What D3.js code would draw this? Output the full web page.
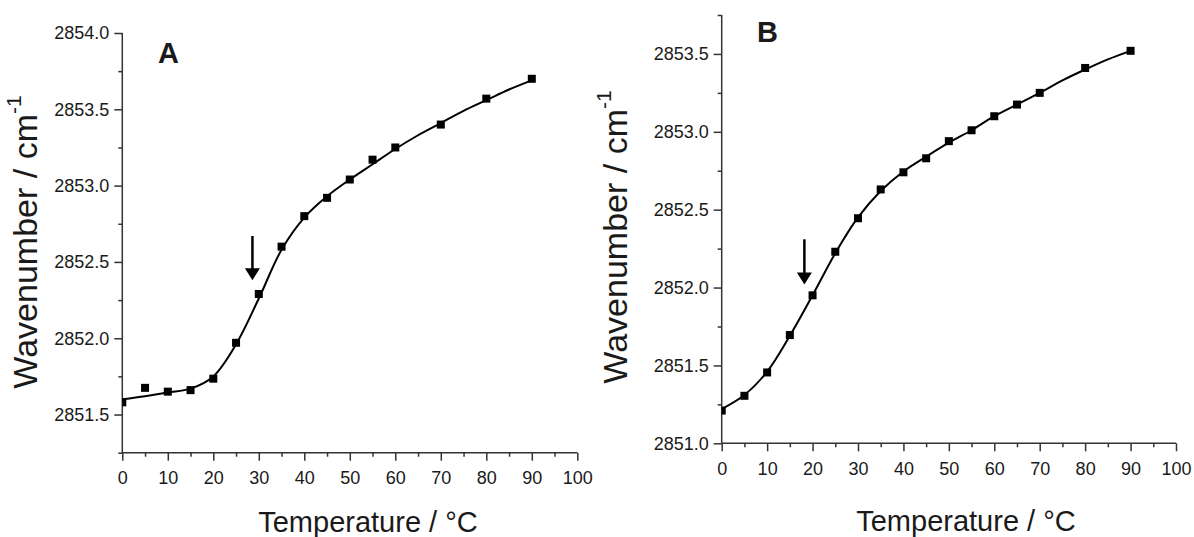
<!DOCTYPE html>
<html>
<head>
<meta charset="utf-8">
<script src="https://cdn.jsdelivr.net/npm/d3@7"></script>
<style>
  body { margin: 0; background: #fff; }
  text { font-family: "Liberation Sans", Arial, sans-serif; fill: #1a1a1a; }
</style>
</head>
<body>
<script>
// panel A: measured points
var tempA = [0, 5, 10, 15, 20, 25, 30, 35, 40, 45, 50, 55, 60, 70, 80, 90];
var waveA = [2851.58, 2851.675, 2851.65, 2851.66, 2851.735, 2851.97, 2852.29, 2852.60,
             2852.80, 2852.92, 2853.04, 2853.17, 2853.25, 2853.40, 2853.57, 2853.70];
// panel A: fitted curve
var fitTempA = [0, 5, 10, 15, 20, 25, 30, 35, 40, 45, 50, 55, 60, 65, 70, 75, 80, 85, 90];
var fitA = [2851.60, 2851.62, 2851.645, 2851.67, 2851.75, 2851.96, 2852.26, 2852.58, 2852.79,
            2852.93, 2853.04, 2853.14, 2853.24, 2853.33, 2853.41, 2853.49, 2853.56, 2853.63, 2853.69];

// panel B
var tempB = [0, 5, 10, 15, 20, 25, 30, 35, 40, 45, 50, 55, 60, 65, 70, 80, 90];
var waveB = [2851.21, 2851.305, 2851.455, 2851.695, 2851.95, 2852.23, 2852.445, 2852.63, 2852.74,
             2852.83, 2852.94, 2853.01, 2853.10, 2853.175, 2853.25, 2853.41, 2853.52];
var fitTempB = [0, 5, 10, 15, 20, 25, 30, 35, 40, 45, 50, 55, 60, 65, 70, 75, 80, 85, 90];
var fitB = [2851.22, 2851.31, 2851.46, 2851.69, 2851.95, 2852.22, 2852.45, 2852.62, 2852.745,
            2852.84, 2852.93, 2853.01, 2853.10, 2853.175, 2853.25, 2853.33, 2853.40, 2853.465, 2853.52];

// transition arrows (temperature, top value, tip value)
var arrowTemp = [28.6, 18.2];
var arrowTop = [2852.67, 2852.31];
var arrowTip = [2852.38, 2852.02];

var xTicks = [0, 10, 20, 30, 40, 50, 60, 70, 80, 90, 100];
var yTicksA = [2851.5, 2852.0, 2852.5, 2853.0, 2853.5, 2854.0];
var yTicksB = [2851.0, 2851.5, 2852.0, 2852.5, 2853.0, 2853.5];
var panelLabels = ["A", "B"];

var W = 1194, H = 537;
var svg = d3.select("body").append("svg").attr("width", W).attr("height", H);

var panels = [
  {label: panelLabels[0], temp: tempA, wave: waveA, fitT: fitTempA, fit: fitA,
   yDomain: [2851.25, 2854.0], yTicks: yTicksA,
   left: 122.3, right: 577.3, top: 33, bottom: 452.7,
   labelX: 158, labelY: 63, yTitleX: 37, yTitleY: 242, xTitleX: 368, xTitleY: 531.5},
  {label: panelLabels[1], temp: tempB, wave: waveB, fitT: fitTempB, fit: fitB,
   yDomain: [2851.0, 2853.75], yTicks: yTicksB,
   left: 721.7, right: 1176, top: 15, bottom: 443.3,
   labelX: 757, labelY: 42, yTitleX: 627, yTitleY: 237, xTitleX: 966, xTitleY: 530.5}
];

panels.forEach(function(p, i) {
  var x = d3.scaleLinear().domain([0, 100]).range([p.left, p.right]);
  var y = d3.scaleLinear().domain(p.yDomain).range([p.bottom, p.top]);
  var g = svg.append("g");

  var clipId = "clip" + i;
  svg.append("clipPath").attr("id", clipId).append("rect")
    .attr("x", p.left).attr("y", p.top - 10)
    .attr("width", p.right - p.left + 10).attr("height", p.bottom - p.top + 10);

  // minor ticks
  var xMinor = d3.range(5, 100, 10);
  var yMinor = d3.range(p.yDomain[0], p.yDomain[1] + 0.001, 0.25)
    .filter(function(v) { return Math.abs((v * 2) - Math.round(v * 2)) > 0.01; });

  var xAxis = g.append("g").attr("transform", "translate(0," + p.bottom + ")")
    .call(d3.axisBottom(x).tickValues(xTicks).tickSize(8).tickPadding(11).tickFormat(d3.format("d")));
  xAxis.select(".domain").attr("d", "M" + p.left + ",0H" + p.right);
  xAxis.selectAll(".tick text").attr("font-size", 18).attr("dy", "0.71em")
    .attr("font-family", "'Liberation Sans', Arial, sans-serif").attr("fill", "#1a1a1a");
  g.append("g").attr("transform", "translate(0," + p.bottom + ")")
    .call(d3.axisBottom(x).tickValues(xMinor).tickSize(4).tickFormat(""))
    .select(".domain").remove();

  var yAxis = g.append("g").attr("transform", "translate(" + p.left + ",0)")
    .call(d3.axisLeft(y).tickValues(p.yTicks).tickSize(8).tickPadding(5).tickFormat(d3.format(".1f")));
  yAxis.select(".domain").attr("d", "M0," + p.top + "V" + p.bottom);
  yAxis.selectAll(".tick text").attr("font-size", 18)
    .attr("font-family", "'Liberation Sans', Arial, sans-serif").attr("fill", "#1a1a1a");
  g.append("g").attr("transform", "translate(" + p.left + ",0)")
    .call(d3.axisLeft(y).tickValues(yMinor).tickSize(4).tickFormat(""))
    .select(".domain").remove();

  g.selectAll(".domain, .tick line").attr("stroke", "#333").attr("stroke-width", 1.5);

  // fitted curve
  var line = d3.line()
    .x(function(d, k) { return x(p.fitT[k]); })
    .y(function(d) { return y(d); })
    .curve(d3.curveCatmullRom.alpha(0.5));
  g.append("path").datum(p.fit).attr("d", line)
    .attr("fill", "none").attr("stroke", "#000").attr("stroke-width", 2);

  // points
  var s = 8;
  g.append("g").attr("clip-path", "url(#" + clipId + ")")
    .selectAll("rect").data(p.wave).enter().append("rect")
    .attr("x", function(d, k) { return x(p.temp[k]) - s / 2; })
    .attr("y", function(d) { return y(d) - s / 2; })
    .attr("width", s).attr("height", s).attr("fill", "#000");

  // arrow
  var ax = x(arrowTemp[i]), at = y(arrowTop[i]), ap = y(arrowTip[i]);
  g.append("line").attr("x1", ax).attr("x2", ax).attr("y1", at).attr("y2", ap - 8)
    .attr("stroke", "#000").attr("stroke-width", 2.5);
  g.append("path")
    .attr("d", "M" + (ax - 7.5) + "," + (ap - 12) + "L" + (ax + 7.5) + "," + (ap - 12) + "L" + ax + "," + ap + "Z")
    .attr("fill", "#000");

  // panel label
  g.append("text").attr("x", p.labelX).attr("y", p.labelY)
    .attr("font-size", 29).attr("font-weight", "bold").attr("fill", "#000").text(p.label);

  // axis titles
  g.append("text").attr("x", p.xTitleX).attr("y", p.xTitleY)
    .attr("text-anchor", "middle").attr("font-size", 29).text("Temperature / \u00B0C");

  var yt = g.append("text")
    .attr("transform", "translate(" + p.yTitleX + "," + p.yTitleY + ") rotate(-90)")
    .attr("text-anchor", "middle").attr("font-size", 34);
  yt.append("tspan").text("Wavenumber / cm");
  yt.append("tspan").attr("font-size", 21).attr("dy", "-0.75em").text("-1");
});
</script>
</body>
</html>
